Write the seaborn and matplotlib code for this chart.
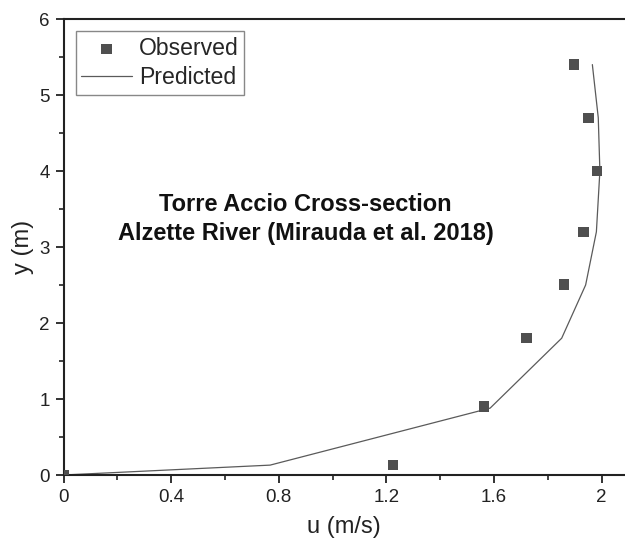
import matplotlib
matplotlib.use("Agg")
import matplotlib.pyplot as plt
from matplotlib.ticker import MultipleLocator
import seaborn as sns
import pandas as pd

sns.set_style("ticks")
plt.rcParams["font.family"] = ["Liberation Sans", "DejaVu Sans"]

# Observed velocity profile
obs_u = [0.0, 1.225, 1.563, 1.722, 1.861, 1.934, 1.984, 1.951, 1.898]
obs_y = [0.0, 0.13, 0.90, 1.80, 2.51, 3.20, 4.00, 4.70, 5.40]

# Predicted velocity profile
pred_u = [0.0, 0.768, 1.586, 1.852, 1.941, 1.981, 1.994, 1.988, 1.966]
pred_y = [0.0, 0.13, 0.88, 1.80, 2.50, 3.20, 4.00, 4.70, 5.40]

title_lines = ["Torre Accio Cross-section", "Alzette River (Mirauda et al. 2018)"]

obs = pd.DataFrame({"u": obs_u, "y": obs_y})
pred = pd.DataFrame({"u": pred_u, "y": pred_y})

fig = plt.figure(figsize=(6.25, 5.45), dpi=100)
ax = fig.add_axes([63.5 / 625, 70 / 545, 1 - 63.5 / 625, 456 / 545])

sns.lineplot(data=pred, x="u", y="y", sort=False, estimator=None, ax=ax,
             color="#5a5a5a", linewidth=0.9, label="Predicted")
sns.scatterplot(data=obs, x="u", y="y", ax=ax, marker="s", s=58,
                color="#4f4f4f", edgecolor="none", label="Observed", zorder=3)

ax.set_xlim(0, (625 - 63.5) / 269)
ax.set_ylim(0, 6)
ax.xaxis.set_major_locator(MultipleLocator(0.4))
ax.xaxis.set_minor_locator(MultipleLocator(0.2))
ax.yaxis.set_major_locator(MultipleLocator(1))
ax.yaxis.set_minor_locator(MultipleLocator(0.5))
ax.set_xticks([0, 0.4, 0.8, 1.2, 1.6, 2.0])
ax.set_xticklabels(["0", "0.4", "0.8", "1.2", "1.6", "2"])

for s in ["left", "bottom", "top"]:
    ax.spines[s].set_linewidth(1.5)
    ax.spines[s].set_color("#222222")
ax.spines["right"].set_visible(False)

ax.tick_params(which="major", direction="out", length=6, width=1.3,
               labelsize=13.5, colors="#222222", pad=4)
ax.tick_params(which="minor", direction="out", length=3.5, width=1.2,
               colors="#222222")
ax.tick_params(axis="x", which="both", top=False)

ax.set_xlabel("u (m/s)", fontsize=17, labelpad=7, color="#222222")
ax.set_ylabel("y (m)", fontsize=17, labelpad=4, color="#222222")

ax.text(0.9, 3.553, title_lines[0], ha="center", va="center",
        fontsize=17, fontweight="bold", color="#111111")
ax.text(0.9, 3.184, title_lines[1], ha="center", va="center",
        fontsize=17, fontweight="bold", color="#111111")

handles, labels = ax.get_legend_handles_labels()
order = [labels.index("Observed"), labels.index("Predicted")]
leg = ax.legend([handles[i] for i in order], [labels[i] for i in order],
                loc="upper left", bbox_to_anchor=(0.022, 0.973),
                fontsize=16.6, frameon=True, fancybox=False, framealpha=1,
                edgecolor="#888888", borderpad=0.24, handlelength=2.2,
                handletextpad=0.3, labelspacing=0.27, borderaxespad=0)
leg.get_frame().set_linewidth(1.0)

fig.savefig("out.png", dpi=100)
